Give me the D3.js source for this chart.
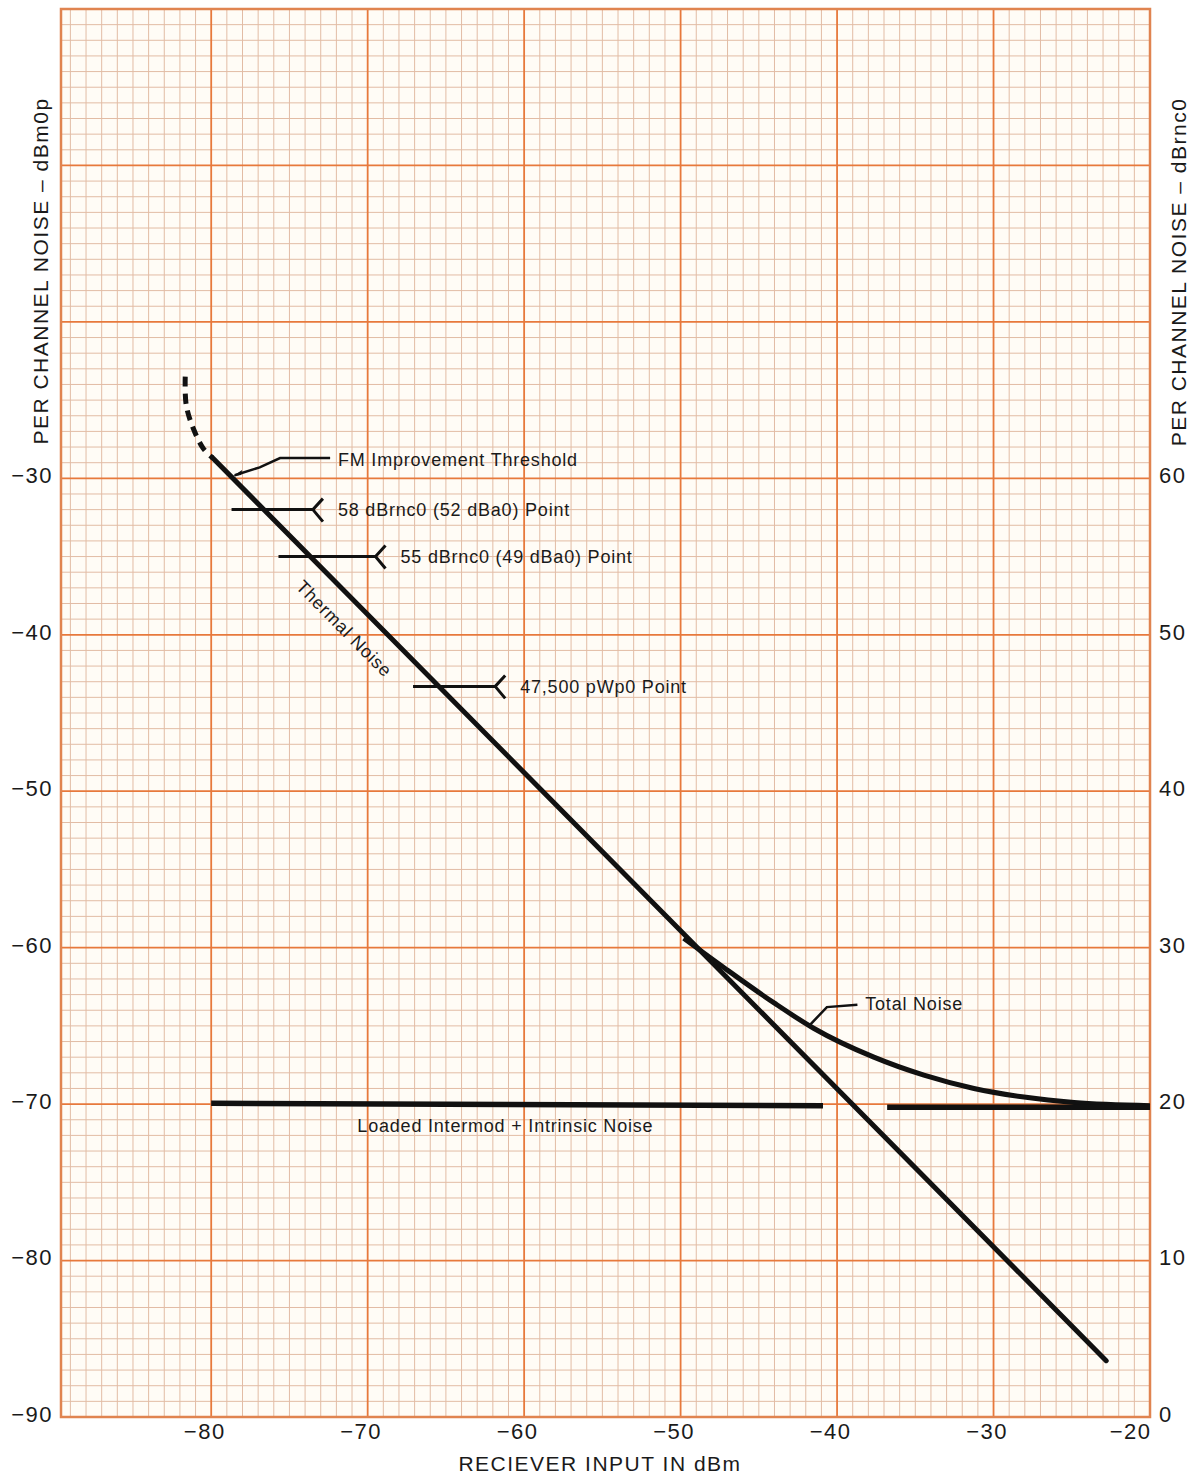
<html lang="en">
<head>
    <meta charset="UTF-8">
    <title>Per channel noise vs receiver input</title>
    <script src="https://d3js.org/d3.v7.min.js"></script>
    <style>
        body { margin: 0; background: #fff; }
        text { font-family: "Liberation Sans", Arial, sans-serif; fill: #1a1a1a; }
        .tick text { font-size: 22px; letter-spacing: 1.5px; }
        .note { font-size: 18px; letter-spacing: 0.8px; }
        .title { font-size: 21px; letter-spacing: 1.5px; }
    </style>
</head>
<body>
    <div id="chart"></div>
    <script>
        // ---- data (dBm in, dBm0p out) ----
        var xTicks = [-80, -70, -60, -50, -40, -30, -20];
        var yTicksLeft = [-30, -40, -50, -60, -70, -80, -90];
        var yTicksRight = [60, 50, 40, 30, 20, 10, 0];

        var thermalNoise = [[-79.9, -28.7], [-22.8, -86.4]];
        var belowThreshold = [[-81.66, -23.5], [-81.6, -25.3], [-81.15, -26.8], [-80.5, -28.1], [-79.9, -28.7]];
        var totalNoise = [[-49.8, -59.4], [-47.2, -61.3], [-44.0, -63.55], [-41.5, -65.15], [-37.65, -67.0],
                          [-34.45, -68.15], [-31.25, -69.0], [-28.05, -69.55], [-24.85, -69.9], [-20.0, -70.1]];
        var intermodLeft = [[-80, -69.95], [-40.9, -70.1]];
        var intermodRight = [[-36.8, -70.2], [-20, -70.2]];

        // marker points: label, line start x, line end x, level
        var markerLabels = ["58 dBrnc0 (52 dBa0) Point", "55 dBrnc0 (49 dBa0) Point", "47,500 pWp0 Point"];
        var markerStart = [-78.7, -75.7, -67.1];
        var markerEnd = [-73.5, -69.5, -61.85];
        var markerLevel = [-32, -35, -43.3];

        var width = 1196, height = 1476;
        var pLeft = 61, pRight = 1150, pTop = 9, pBottom = 1417;

        var x = d3.scaleLinear().domain([-89.6, -20]).range([pLeft, pRight]);
        var y = d3.scaleLinear().domain([-90, 0]).range([pBottom, pTop]);
        var yR = d3.scaleLinear().domain([0, 90]).range([pBottom, pTop]);

        var svg = d3.select("#chart").append("svg")
            .attr("width", width)
            .attr("height", height);

        // graph paper
        svg.append("rect")
            .attr("x", pLeft).attr("y", pTop)
            .attr("width", pRight - pLeft).attr("height", pBottom - pTop)
            .attr("fill", "#fffcf6");

        var grid = svg.append("g");
        var vLines = d3.range(-89, -20);
        var hLines = d3.range(-89, 0);
        grid.selectAll(".vmin").data(vLines.filter(function(d){ return d % 10 != 0; }))
            .enter().append("line")
            .attr("x1", function(d){ return x(d); }).attr("x2", function(d){ return x(d); })
            .attr("y1", pTop).attr("y2", pBottom)
            .attr("stroke", "#e2bca5").attr("stroke-width", 1);
        grid.selectAll(".hmin").data(hLines.filter(function(d){ return d % 10 != 0; }))
            .enter().append("line")
            .attr("y1", function(d){ return y(d); }).attr("y2", function(d){ return y(d); })
            .attr("x1", pLeft).attr("x2", pRight)
            .attr("stroke", "#e2bca5").attr("stroke-width", 1);
        grid.selectAll(".vmaj").data(vLines.filter(function(d){ return d % 10 == 0; }))
            .enter().append("line")
            .attr("x1", function(d){ return x(d); }).attr("x2", function(d){ return x(d); })
            .attr("y1", pTop).attr("y2", pBottom)
            .attr("stroke", "#e7793c").attr("stroke-width", 1.8);
        grid.selectAll(".hmaj").data(hLines.filter(function(d){ return d % 10 == 0; }))
            .enter().append("line")
            .attr("y1", function(d){ return y(d); }).attr("y2", function(d){ return y(d); })
            .attr("x1", pLeft).attr("x2", pRight)
            .attr("stroke", "#e7793c").attr("stroke-width", 1.8);
        svg.append("rect")
            .attr("x", pLeft).attr("y", pTop)
            .attr("width", pRight - pLeft).attr("height", pBottom - pTop)
            .attr("fill", "none").attr("stroke", "#e08450").attr("stroke-width", 2.5);

        // axes
        function fmt(d) { return d < 0 ? "\u2212" + Math.abs(d) : String(d); }

        var xAxis = svg.append("g")
            .attr("transform", "translate(0," + pBottom + ")")
            .call(d3.axisBottom(x).tickValues(xTicks).tickSize(0).tickPadding(6).tickFormat(fmt));
        xAxis.select(".domain").remove();
        xAxis.selectAll("text").attr("dx", "-7").attr("fill", "#1a1a1a");
        xAxis.selectAll("text").filter(function(d){ return d == -20; })
            .attr("text-anchor", "end").attr("dx", "1");

        var yAxisL = svg.append("g")
            .attr("transform", "translate(" + pLeft + ",0)")
            .call(d3.axisLeft(y).tickValues(yTicksLeft).tickSize(0).tickPadding(8).tickFormat(fmt));
        yAxisL.select(".domain").remove();
        yAxisL.selectAll("text").attr("dy", "0.2em").attr("fill", "#1a1a1a");

        var yAxisR = svg.append("g")
            .attr("transform", "translate(" + pRight + ",0)")
            .call(d3.axisRight(yR).tickValues(yTicksRight).tickSize(0).tickPadding(9));
        yAxisR.select(".domain").remove();
        yAxisR.selectAll("text").attr("dy", "0.2em").attr("fill", "#1a1a1a");

        svg.append("text").attr("class", "title")
            .attr("transform", "translate(48,271) rotate(-90)")
            .attr("text-anchor", "middle")
            .text("PER CHANNEL NOISE \u2013 dBm0p");
        svg.append("text").attr("class", "title")
            .attr("transform", "translate(1186,272) rotate(-90)")
            .attr("text-anchor", "middle")
            .text("PER CHANNEL NOISE \u2013 dBrnc0");
        svg.append("text").attr("class", "title")
            .attr("x", 600).attr("y", 1471)
            .attr("text-anchor", "middle")
            .text("RECIEVER INPUT IN dBm");

        // curves
        var line = d3.line().x(function(d){ return x(d[0]); }).y(function(d){ return y(d[1]); });
        var smooth = d3.line().curve(d3.curveMonotoneX).x(function(d){ return x(d[0]); }).y(function(d){ return y(d[1]); });
        var bend = d3.line().curve(d3.curveCatmullRom).x(function(d){ return x(d[0]); }).y(function(d){ return y(d[1]); });

        var curves = svg.append("g").attr("fill", "none").attr("stroke", "#111");
        curves.append("path").attr("d", bend(belowThreshold))
            .attr("stroke-width", 5).attr("stroke-dasharray", "10,7");
        curves.append("path").attr("d", line(thermalNoise)).attr("stroke-width", 5).attr("stroke-linecap", "round");
        curves.append("path").attr("d", smooth(totalNoise)).attr("stroke-width", 5);
        curves.append("path").attr("d", line(intermodLeft)).attr("stroke-width", 5.5);
        curves.append("path").attr("d", line(intermodRight)).attr("stroke-width", 5.5);

        // annotations
        var notes = svg.append("g");
        var fmLeader = [[-78.5, -29.8], [-76.9, -29.3], [-75.6, -28.7], [-72.4, -28.7]];
        notes.append("path").attr("d", line(fmLeader)).attr("fill", "none").attr("stroke", "#111").attr("stroke-width", 2.5);
        notes.append("path")
            .attr("d", "M0,0 L9,-6 L8,-1 Z")
            .attr("transform", "translate(" + x(-78.6) + "," + y(-29.85) + ")")
            .attr("fill", "#111");
        notes.append("text").attr("class", "note")
            .attr("x", x(-71.9)).attr("y", y(-28.8)).attr("dy", "0.35em")
            .text("FM Improvement Threshold");

        markerLabels.forEach(function(label, i) {
            var yy = y(markerLevel[i]), x1 = x(markerStart[i]), x2 = x(markerEnd[i]);
            notes.append("path")
                .attr("d", "M" + x1 + "," + yy + "L" + x2 + "," + yy +
                           "M" + (x2 + 10) + "," + (yy - 11) + "L" + x2 + "," + yy + "L" + (x2 + 10) + "," + (yy + 12))
                .attr("fill", "none").attr("stroke", "#111").attr("stroke-width", 3);
            notes.append("text").attr("class", "note")
                .attr("x", x2 + 25).attr("y", yy).attr("dy", "0.35em")
                .text(label);
        });

        notes.append("text").attr("class", "note")
            .attr("transform", "translate(" + x(-71.5) + "," + y(-39.6) + ") rotate(45.3)")
            .attr("text-anchor", "middle").attr("dy", "0.35em")
            .style("font-size", "18px")
            .text("Thermal Noise");

        var totalLeader = [[-41.7, -64.9], [-40.65, -63.8], [-38.7, -63.65]];
        notes.append("path").attr("d", line(totalLeader)).attr("fill", "none").attr("stroke", "#111").attr("stroke-width", 2.5);
        notes.append("text").attr("class", "note")
            .attr("x", x(-38.2)).attr("y", y(-63.6)).attr("dy", "0.35em")
            .text("Total Noise");

        notes.append("text").attr("class", "note")
            .attr("x", x(-61.2)).attr("y", y(-71.4)).attr("dy", "0.35em")
            .attr("text-anchor", "middle")
            .text("Loaded Intermod + Intrinsic Noise");
    </script>
</body>
</html>
